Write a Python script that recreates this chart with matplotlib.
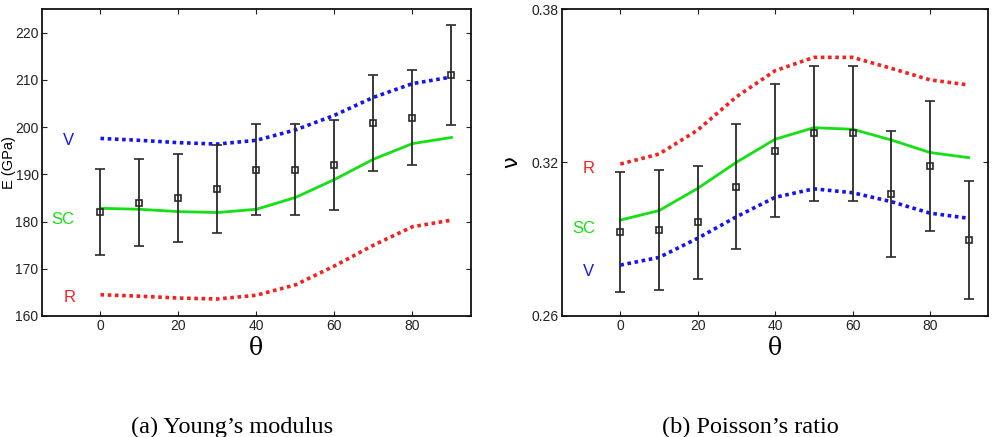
import numpy as np
import matplotlib
matplotlib.use("Agg")
import matplotlib.pyplot as plt

# Data
theta = [0, 10, 20, 30, 40, 50, 60, 70, 80, 90]

# (a) Young's modulus, GPa
E_exp = [182.0, 184.0, 185.0, 186.9, 191.0, 191.0, 192.0, 200.9, 202.0, 211.0]
E_err = [9.1, 9.2, 9.3, 9.4, 9.6, 9.6, 9.6, 10.1, 10.1, 10.6]
E_V = [197.6, 197.2, 196.7, 196.4, 197.2, 199.4, 202.5, 206.3, 209.2, 210.6]
E_SC = [182.8, 182.6, 182.1, 181.9, 182.6, 185.1, 188.9, 193.2, 196.5, 197.8]
E_R = [164.5, 164.2, 163.8, 163.6, 164.4, 166.6, 170.6, 175.0, 178.9, 180.3]

# (b) Poisson's ratio
nu_exp = [0.2927, 0.2936, 0.2966, 0.3106, 0.3246, 0.3314, 0.3314, 0.3077, 0.3187, 0.2897]
nu_err = [0.0234, 0.0235, 0.0220, 0.0246, 0.0260, 0.0265, 0.0265, 0.0245, 0.0255, 0.0231]
nu_R = [0.3194, 0.3233, 0.3327, 0.3457, 0.3559, 0.3611, 0.3611, 0.3568, 0.3523, 0.3503]
nu_SC = [0.2975, 0.3012, 0.3099, 0.3201, 0.3291, 0.3336, 0.3330, 0.3288, 0.3239, 0.3219]
nu_V = [0.2799, 0.2829, 0.2904, 0.2988, 0.3064, 0.3097, 0.3082, 0.3047, 0.3002, 0.2982]

plt.rcParams['font.family'] = ['Liberation Sans', 'DejaVu Sans']

blue = '#1414f0'
green = '#14e014'
red = '#f52020'
dots = (0, (1.0, 1.0))

fig = plt.figure(figsize=(9.97, 4.37), dpi=100)
ax1 = fig.add_axes([0.0421, 0.2769, 0.4303, 0.7025])
ax2 = fig.add_axes([0.564, 0.2769, 0.427, 0.7025])


def style(ax):
    ax.tick_params(direction='in', top=True, right=True, length=3.5,
                   width=0.8, labelsize=10, colors='#222222', pad=2.5)
    for s in ax.spines.values():
        s.set_linewidth(1.3)
        s.set_color('#111111')
    ax.set_xlim(-15, 95)
    ax.set_xticks([0, 20, 40, 60, 80])
    ax.set_xlabel('θ', fontsize=17, labelpad=2.5, family=['DejaVu Serif'])


# left panel
ax1.plot(theta, E_V, color=blue, lw=2.6, linestyle=dots)
ax1.plot(theta, E_SC, color=green, lw=2.0)
ax1.plot(theta, E_R, color=red, lw=2.6, linestyle=dots)
ax1.errorbar(theta, E_exp, yerr=E_err, fmt='s', color='#2a2a2a', ms=4,
             mfc='none', mew=1.2, elinewidth=1.3, capsize=3.5, capthick=1.2)
ax1.set_ylim(160, 225)
ax1.set_yticks(np.arange(160, 221, 10))
style(ax1)
ax1.set_ylabel('E (GPa)', fontsize=10.5)
ax1.yaxis.set_label_coords(-0.061, 0.5)
ax1.text(-8.3, 197.2, 'V', color=blue, fontsize=12, ha='center', va='center')
ax1.text(-9.6, 180.5, 'SC', color=green, fontsize=12, ha='center', va='center')
ax1.text(-8.0, 164.0, 'R', color=red, fontsize=12, ha='center', va='center')

# right panel
ax2.plot(theta, nu_R, color=red, lw=2.6, linestyle=dots)
ax2.plot(theta, nu_SC, color=green, lw=2.0)
ax2.plot(theta, nu_V, color=blue, lw=2.6, linestyle=dots)
ax2.errorbar(theta, nu_exp, yerr=nu_err, fmt='s', color='#2a2a2a', ms=4,
             mfc='none', mew=1.2, elinewidth=1.3, capsize=3.5, capthick=1.2)
ax2.set_ylim(0.26, 0.38)
ax2.set_yticks([0.26, 0.32, 0.38])
ax2.set_yticklabels(['0.26', '0.32', '0.38'])
style(ax2)
ax2.set_ylabel('ν', fontsize=15, family=['DejaVu Sans'])
ax2.yaxis.set_label_coords(-0.097, 0.5)
ax2.text(-8.1, 0.3175, 'R', color=red, fontsize=12, ha='center', va='center')
ax2.text(-9.5, 0.2943, 'SC', color=green, fontsize=12, ha='center', va='center')
ax2.text(-8.3, 0.2773, 'V', color=blue, fontsize=12, ha='center', va='center')

fig.text(0.2324, 0.0095, '(a) Young\u2019s modulus', ha='center', va='baseline',
         fontsize=17.5, family=['Liberation Serif'])
fig.text(0.7523, 0.0095, '(b) Poisson\u2019s ratio', ha='center', va='baseline',
         fontsize=17.5, family=['Liberation Serif'])

fig.savefig('out.png', dpi=100)
